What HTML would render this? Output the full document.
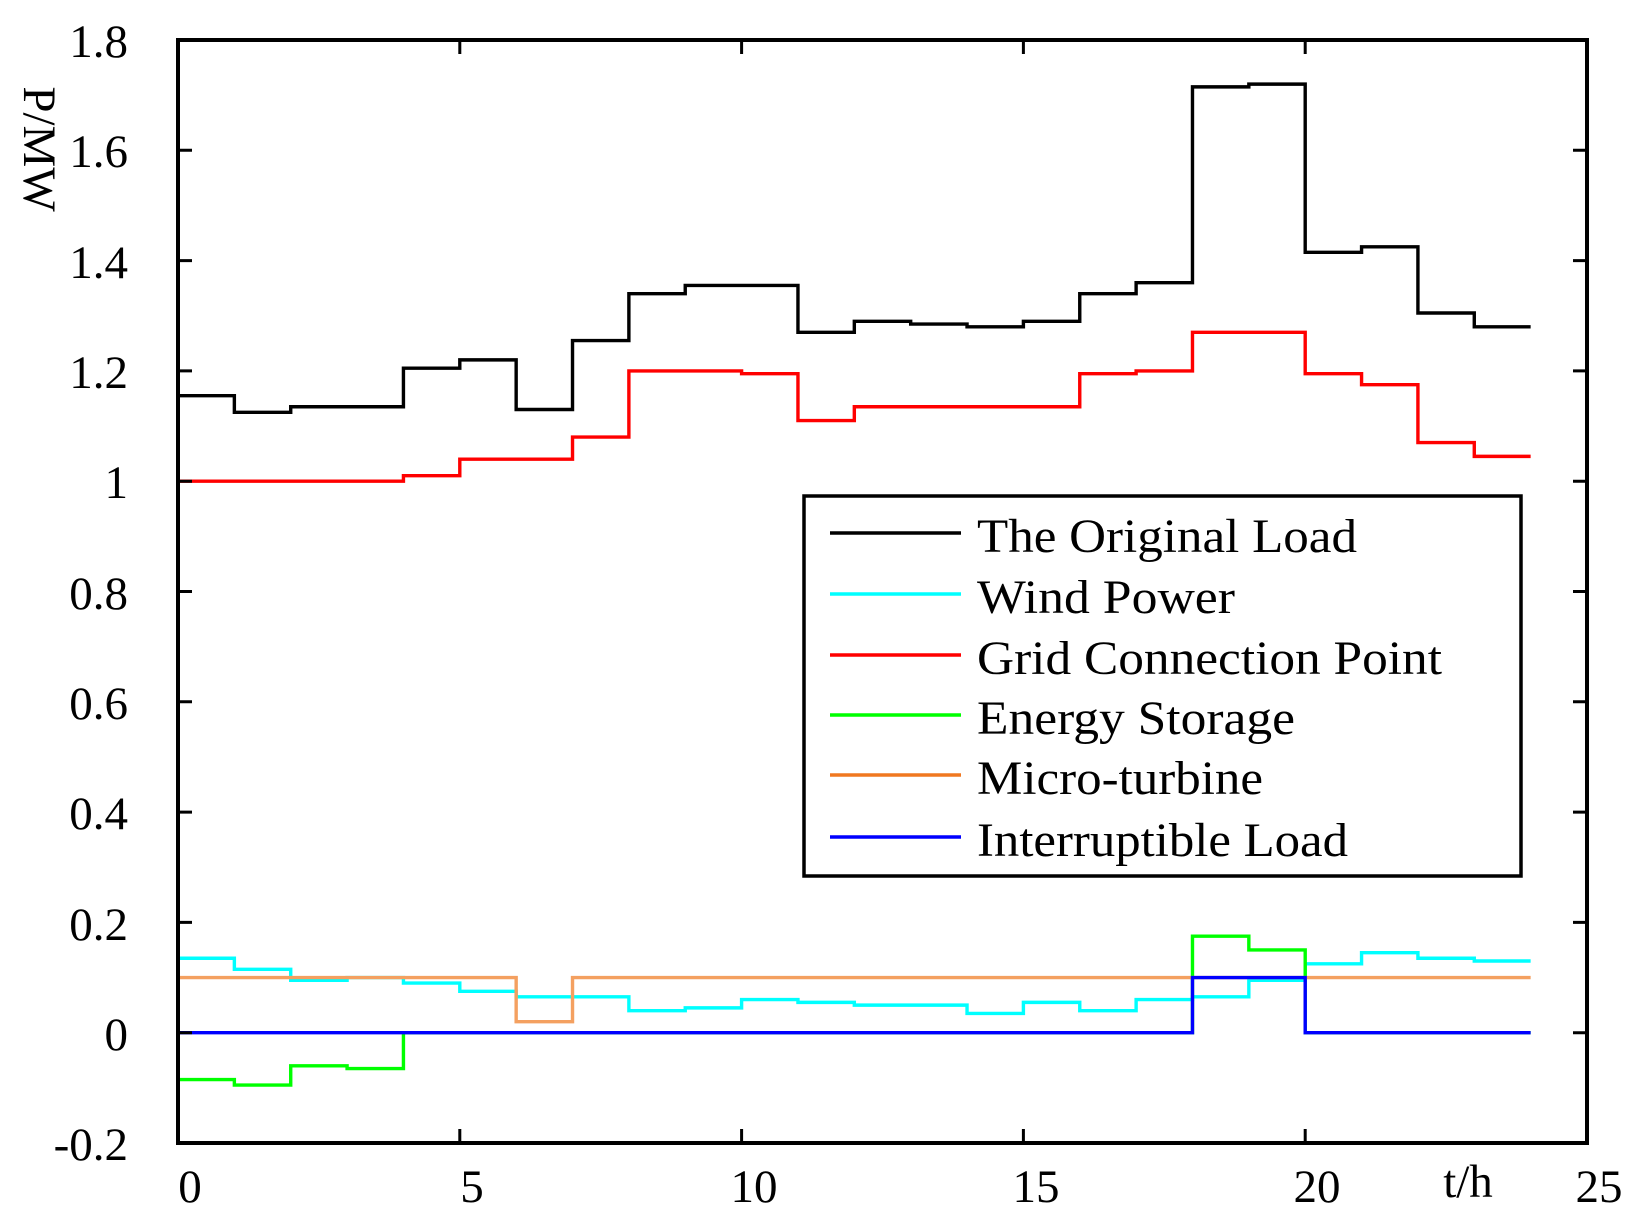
<!DOCTYPE html>
<html><head><meta charset="utf-8"><style>
html,body{margin:0;padding:0;background:#fff;}
svg text{font-family:"Liberation Serif",serif;fill:#000;}
</style></head><body>
<svg id="s" width="1645" height="1226" xmlns="http://www.w3.org/2000/svg">
<rect width="1645" height="1226" fill="#fff"/>
<g id="series" fill="none" stroke-width="3.4" stroke-linejoin="miter"></g>
<g id="ticks" stroke="#000" stroke-width="3"></g>
<rect x="178" y="40" width="1409" height="1103" fill="none" stroke="#000" stroke-width="4"/>
<g font-size="47" text-anchor="end">
<text x="128" y="57">1.8</text><text x="128" y="167">1.6</text><text x="128" y="278">1.4</text>
<text x="128" y="388">1.2</text><text x="128" y="498">1</text><text x="128" y="609">0.8</text>
<text x="128" y="719">0.6</text><text x="128" y="829">0.4</text><text x="128" y="940">0.2</text>
<text x="128" y="1050">0</text><text x="128" y="1160">-0.2</text>
</g>
<g font-size="47" text-anchor="middle">
<text x="190" y="1202">0</text><text x="472" y="1202">5</text><text x="754" y="1202">10</text>
<text x="1036" y="1202">15</text><text x="1317" y="1202">20</text><text x="1599" y="1202">25</text>
<text x="1468" y="1197">t/h</text>
</g>
<text font-size="47" text-anchor="middle" transform="translate(24,149) rotate(90)">P/MW</text>
<rect x="804" y="496" width="717" height="380" fill="#fff" stroke="#000" stroke-width="3.5"/>
<g stroke-width="3.5">
<line x1="830" x2="961" y1="533" y2="533" stroke="#000"/>
<line x1="830" x2="961" y1="594" y2="594" stroke="#00ffff"/>
<line x1="830" x2="961" y1="655" y2="655" stroke="#ff0000"/>
<line x1="830" x2="961" y1="715" y2="715" stroke="#00ff00"/>
<line x1="830" x2="961" y1="775" y2="775" stroke="#f07820"/>
<line x1="830" x2="961" y1="837" y2="837" stroke="#0000ff"/>
</g>
<g font-size="48">
<text x="977" y="552" textLength="380" lengthAdjust="spacingAndGlyphs">The Original Load</text>
<text x="977" y="613" textLength="258" lengthAdjust="spacingAndGlyphs">Wind Power</text>
<text x="977" y="674" textLength="465" lengthAdjust="spacingAndGlyphs">Grid Connection Point</text>
<text x="977" y="734" textLength="318" lengthAdjust="spacingAndGlyphs">Energy Storage</text>
<text x="977" y="794" textLength="286" lengthAdjust="spacingAndGlyphs">Micro-turbine</text>
<text x="977" y="856" textLength="371" lengthAdjust="spacingAndGlyphs">Interruptible Load</text>
</g>
</svg>
<script>
var X=function(t){return 178+t*56.36;},Y=function(v){return 40+(1.8-v)*551.5;};
function step(d){var p="M"+X(0)+","+Y(d[0]);for(var i=0;i<d.length;i++){if(i>0)p+="L"+X(i)+","+Y(d[i]);p+="L"+X(i+1)+","+Y(d[i]);}return p;}
var S=[
["#00ffff",[0.135,0.115,0.095,0.1,0.09,0.075,0.065,0.065,0.04,0.045,0.06,0.055,0.05,0.05,0.035,0.055,0.04,0.06,0.065,0.095,0.125,0.145,0.135,0.13]],
["#00ff00",[-0.085,-0.095,-0.06,-0.065,0,0,0,0,0,0,0,0,0,0,0,0,0,0,0.175,0.15,0,0,0,0]],
["#f4a060",[0.1,0.1,0.1,0.1,0.1,0.1,0.02,0.1,0.1,0.1,0.1,0.1,0.1,0.1,0.1,0.1,0.1,0.1,0.1,0.1,0.1,0.1,0.1,0.1]],
["#0000ff",[0,0,0,0,0,0,0,0,0,0,0,0,0,0,0,0,0,0,0.1,0.1,0,0,0,0]],
["#ff0000",[1.0,1.0,1.0,1.0,1.01,1.04,1.04,1.08,1.2,1.2,1.195,1.11,1.135,1.135,1.135,1.135,1.195,1.2,1.27,1.27,1.195,1.175,1.07,1.045]],
["#000000",[1.155,1.125,1.135,1.135,1.205,1.22,1.13,1.255,1.34,1.355,1.355,1.27,1.29,1.285,1.28,1.29,1.34,1.36,1.715,1.72,1.415,1.425,1.305,1.28]]];
var g=document.getElementById("series"),ns="http://www.w3.org/2000/svg";
S.forEach(function(s){var e=document.createElementNS(ns,"path");e.setAttribute("d",step(s[1]));e.setAttribute("stroke",s[0]);g.appendChild(e);});
var tk=document.getElementById("ticks"),h="";
for(var i=0;i<=5;i++){var x=X(i*5);h+="M"+x+",1143v-14M"+x+",40v14";}
for(var j=0;j<=10;j++){var y=40+j*110.3;h+="M178,"+y+"h14M1587,"+y+"h-14";}
var e=document.createElementNS(ns,"path");e.setAttribute("d",h);tk.appendChild(e);
</script>
</body></html>
